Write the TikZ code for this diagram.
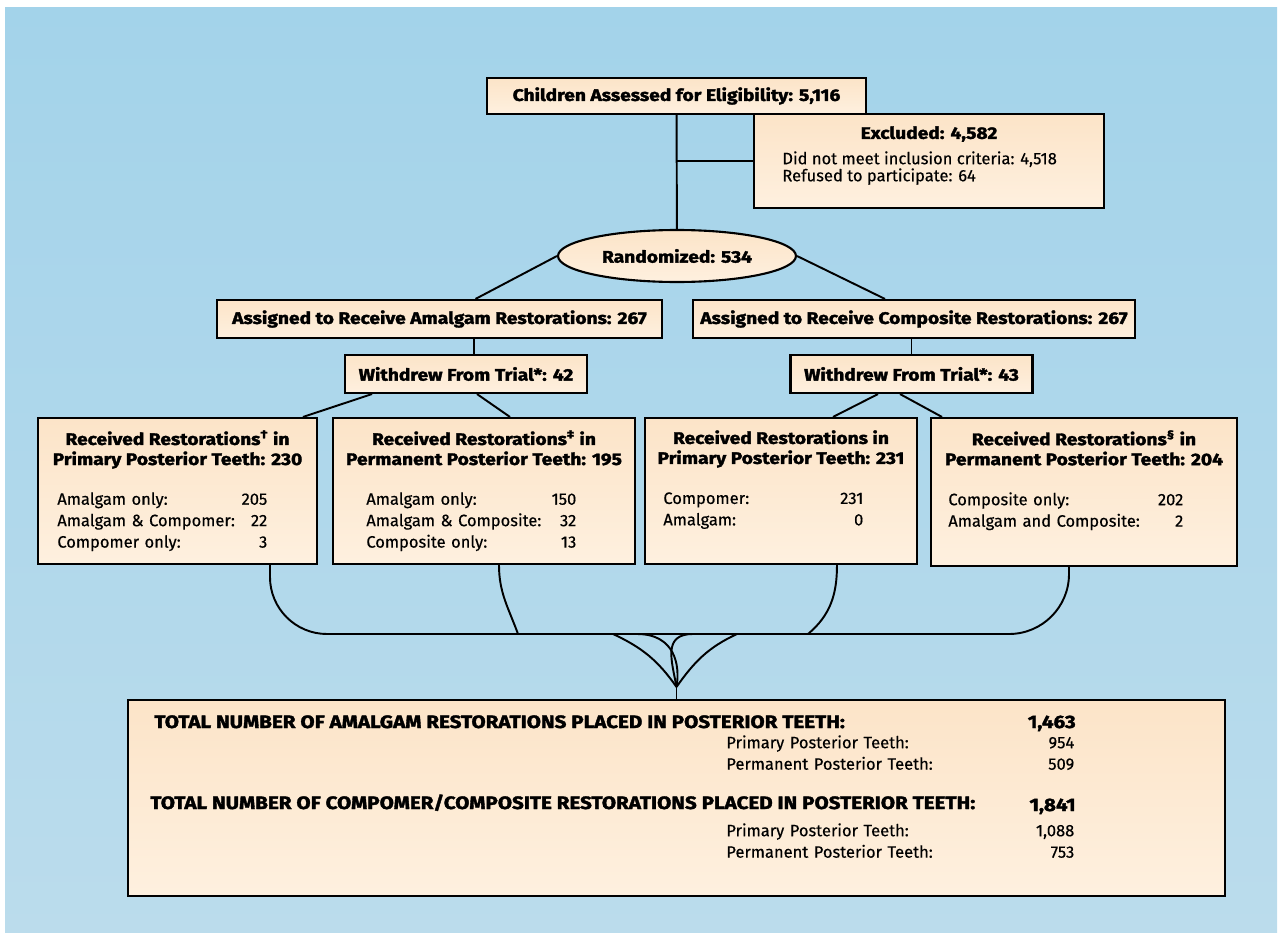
\documentclass[tikz,border=0pt]{standalone}
\usepackage{fontspec}
\setmainfont{Fira Sans}[UprightFeatures={FakeBold=0.4},BoldFeatures={FakeBold=2,FakeStretch=1.15}]
\usetikzlibrary{shapes.geometric}

\definecolor{fundotopo}{HTML}{A3D3EA}
\definecolor{fundobase}{HTML}{BBDCEC}
\definecolor{caixatopo}{HTML}{FCE4C8}
\definecolor{caixabase}{HTML}{FEF0DF}

\newcommand{\fonttit}{\fontsize{9.5}{11.4}\selectfont\bfseries}
\newcommand{\fonttot}{\fontsize{10.2}{11.4}\selectfont\bfseries}
\newcommand{\fontcorpo}{\fontsize{9.4}{12.2}\selectfont}

\tikzset{
  caixa/.style={draw, line width=1.2pt, top color=caixatopo, bottom color=caixabase, inner sep=0pt},
  titulo/.style={font=\fonttit, align=center, inner sep=0pt},
  corpo/.style={font=\fontcorpo, align=left, inner sep=0pt},
  ligacao/.style={line width=1.1pt},
}

\begin{document}
\begin{tikzpicture}[x=0.02cm,y=-0.02cm]
	\useasboundingbox (0,0) rectangle (1282,933);
	\fill[top color=fundotopo, bottom color=fundobase] (5,7) rectangle (1277,933);	% Fundo

	% Triagem
	\node[caixa, minimum width=7.58cm, minimum height=0.72cm, font=\fonttit] (eleg) at (676.5,96) {Children Assessed for Eligibility: 5,116};
	\node[caixa, minimum width=7cm, minimum height=1.88cm] (excl) at (929,161) {};
	\node[titulo] (exclt) at (929,134) {Excluded: 4,582};
	\node[corpo, font=\fontsize{9.4}{9.7}\selectfont, anchor=north west] (excld) at (782,151) {Did not meet inclusion criteria: 4,518\\Refused to participate: 64};
	\node[caixa, ellipse, minimum width=4.76cm, minimum height=1.04cm, font=\fonttit] (rand) at (677,256) {Randomized: 534};

	% Grupos
	\node[caixa, minimum width=8.9cm, minimum height=0.76cm, font=\fonttit] (amal) at (439.5,319) {Assigned to Receive Amalgam Restorations: 267};
	\node[caixa, minimum width=8.84cm, minimum height=0.76cm, font=\fonttit] (comp) at (914,319) {Assigned to Receive Composite Restorations: 267};
	\node[caixa, minimum width=4.84cm, minimum height=0.76cm, font=\fonttit] (wdl) at (466,374) {Withdrew From Trial*: 42};
	\node[caixa, minimum width=4.84cm, minimum height=0.76cm, font=\fonttit] (wdr) at (911.5,374) {Withdrew From Trial*: 43};

	% Restauracoes recebidas
	\node[caixa, minimum width=5.58cm, minimum height=2.92cm] (b1) at (177.5,491) {};
	\node[titulo, anchor=north] (b1t) at (177.5,430) {Received Restorations\textsuperscript{†} in\\Primary Posterior Teeth: 230};
	\node[corpo, anchor=north west, text width=4.2cm] (b1d) at (57,492) {Amalgam only:\hfill 205\\Amalgam \& Compomer:\hfill 22\\Compomer only:\hfill 3};

	\node[caixa, minimum width=6.04cm, minimum height=2.92cm] (b2) at (484,491) {};
	\node[titulo, anchor=north] (b2t) at (484,430) {Received Restorations\textsuperscript{‡} in\\Permanent Posterior Teeth: 195};
	\node[corpo, anchor=north west, text width=4.2cm] (b2d) at (366,492) {Amalgam only:\hfill 150\\Amalgam \& Composite:\hfill 32\\Composite only:\hfill 13};

	\node[caixa, minimum width=5.44cm, minimum height=2.92cm] (b3) at (781,491) {};
	\node[titulo, anchor=north] (b3t) at (781,430) {Received Restorations in\\Primary Posterior Teeth: 231};
	\node[corpo, anchor=north west, text width=4cm] (b3d) at (663,492) {Compomer:\hfill 231\\Amalgam:\hfill 0};

	\node[caixa, minimum width=6.12cm, minimum height=2.96cm] (b4) at (1084,492) {};
	\node[titulo, anchor=north] (b4t) at (1084,430) {Received Restorations\textsuperscript{§} in\\Permanent Posterior Teeth: 204};
	\node[corpo, anchor=north west, text width=4.7cm] (b4d) at (948,492) {Composite only:\hfill 202\\Amalgam and Composite:\hfill 2};

	% Totais
	\node[caixa, minimum width=21.94cm, minimum height=3.92cm] (total) at (676.5,798) {};
	\node[titulo, font=\fonttot, anchor=base west] (tot1) at (154,728) {TOTAL NUMBER OF AMALGAM RESTORATIONS PLACED IN POSTERIOR TEETH:};
	\node[titulo, font=\fonttot, anchor=base east] (tot1n) at (1076,728) {1,463};
	\node[corpo, anchor=north west, text width=6.96cm] (tot1d) at (726,735) {Primary Posterior Teeth:\hfill 954\\Permanent Posterior Teeth:\hfill 509};
	\node[titulo, font=\fonttot, anchor=base west] (tot2) at (150,809) {TOTAL NUMBER OF COMPOMER/COMPOSITE RESTORATIONS PLACED IN POSTERIOR TEETH:};
	\node[titulo, font=\fonttot, anchor=base east] (tot2n) at (1076,811) {1,841};
	\node[corpo, anchor=north west, text width=6.96cm] (tot2d) at (726,823) {Primary Posterior Teeth:\hfill 1,088\\Permanent Posterior Teeth:\hfill 753};

	% Ligacoes
	\draw[ligacao] (eleg) -- (rand);
	\draw[ligacao] (eleg.south |- excl.west) -- (excl.west);
	\draw[ligacao] (rand.west) -- ([xshift=0.72cm]amal.north);
	\draw[ligacao] (rand.east) -- ([xshift=-0.58cm]comp.north);
	\draw[ligacao] ([xshift=0.16cm]wdl.north) -- ([xshift=0.16cm]wdl.north |- amal.south);
	\draw[ligacao] (wdr.north) -- (wdr.north |- comp.south);
	\draw[ligacao] ([xshift=-1.88cm]wdl.south) -- ([xshift=2.51cm]b1.north);
	\draw[ligacao] ([xshift=0.22cm]wdl.south) -- ([xshift=0.52cm]b2.north);
	\draw[ligacao] ([xshift=-0.67cm]wdr.south) -- ([xshift=1.04cm]b3.north);
	\draw[ligacao] ([xshift=-0.23cm]wdr.south) -- ([xshift=-2.84cm]b4.north);

	% Barramento
	\coordinate (apice) at ([yshift=0.24cm]total.north);
	\coordinate (barra1) at (636,634);
	\coordinate (barra2) at (518,634);
	\coordinate (barra2b) at (613,634);
	\coordinate (barra3) at (808,634);
	\coordinate (barra3b) at (737,634);
	\coordinate (barra4) at (697,634);
	\draw[ligacao] ([xshift=1.85cm]b1.south) {[rounded corners=1.14cm] |- (barra1)} to[out=0,in=100] (apice);
	\draw[ligacao] ([xshift=0.3cm]b2.south) to[out=-90,in=110] (barra2) -- (barra2b) to[out=-25,in=125] (apice);
	\draw[ligacao] ([xshift=1.12cm]b3.south) to[out=-90,in=40] (barra3) -- (barra3b) to[out=205,in=55] (apice);
	\draw[ligacao] ([xshift=-0.3cm]b4.south) {[rounded corners=1.2cm] |- (barra4)} to[out=180,in=80] (apice);
	\draw[ligacao] (apice) -- (total.north);
\end{tikzpicture}
\end{document}
